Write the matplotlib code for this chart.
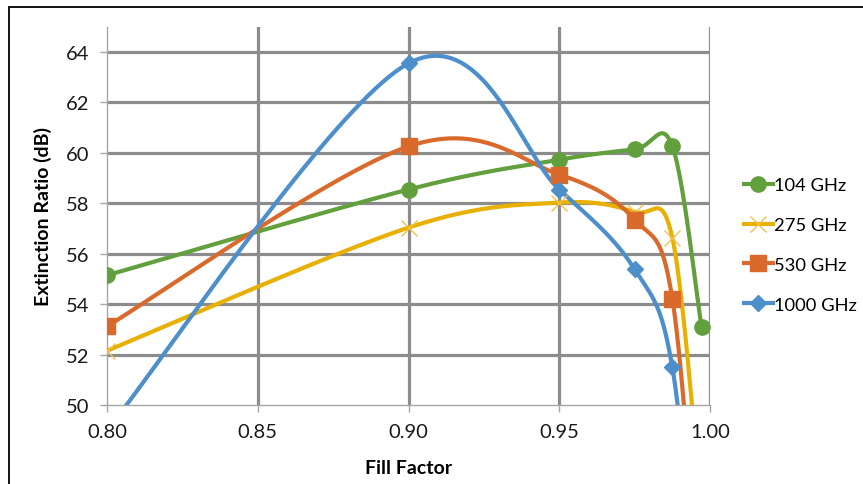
import numpy as np
import matplotlib
matplotlib.use("Agg")
import matplotlib.pyplot as plt
from matplotlib.lines import Line2D
from matplotlib.patches import Rectangle

plt.rcParams['font.family'] = ['Lato', 'DejaVu Sans']

# Fill factor sample points
fill_factor = [0.80, 0.90, 0.95, 0.975, 0.9875, 0.9972]

# Extinction ratio (dB) per frequency
er_104 = [55.14, 58.54, 59.72, 60.13, 60.26, 53.08]
er_275 = [52.15, 57.03, 58.02, 57.65, 56.63, 45.8]
er_530 = [53.12, 60.25, 59.13, 57.35, 54.22, 41.0]
er_1000 = [49.0, 63.54, 58.54, 55.38, 51.5, 40.0]

labels = ['104 GHz', '275 GHz', '530 GHz', '1000 GHz']
colors = ['#62A03E', '#E8B000', '#D96A2B', '#4C8FCB']
markers = ['o', 'x', 's', 'D']

x_ticks = [0.80, 0.85, 0.90, 0.95, 1.00]
y_ticks = [50, 52, 54, 56, 58, 60, 62, 64]


def smooth_curve(x, y, n=80):
    """Cubic Bezier smoothing through every point (spreadsheet-style)."""
    pts = np.column_stack([x, y]).astype(float)
    t = np.linspace(0, 1, n)[:, None]
    out = []
    for i in range(len(pts) - 1):
        p0 = pts[i - 1] if i > 0 else pts[i]
        p1, p2 = pts[i], pts[i + 1]
        p3 = pts[i + 2] if i + 2 < len(pts) else pts[i + 1]
        c1 = p1 + (p2 - p0) / 6.0
        c2 = p2 - (p3 - p1) / 6.0
        seg = ((1 - t) ** 3) * p1 + 3 * ((1 - t) ** 2) * t * c1 \
            + 3 * (1 - t) * t ** 2 * c2 + t ** 3 * p2
        out.append(seg if i == 0 else seg[1:])
    seg = np.vstack(out)
    return seg[:, 0], seg[:, 1]


fig = plt.figure(figsize=(8.63, 4.85), dpi=100)
ax = fig.add_axes([107 / 863, 1 - 406 / 485, (710 - 107) / 863, (406 - 27.5) / 485])

grid_color = '#8C8C8C'
for xv in x_ticks[1:]:
    ax.axvline(xv, color=grid_color, lw=2.3, zorder=1)
for yv in y_ticks[1:]:
    ax.axhline(yv, color=grid_color, lw=2.3, zorder=1)

series = [er_104, er_275, er_530, er_1000]
handles = []
for vals, lab, col, mk in zip(series, labels, colors, markers):
    sx, sy = smooth_curve(fill_factor, vals)
    ax.plot(sx, sy, color=col, lw=3.0, solid_capstyle='butt', zorder=3)
    if mk == 'x':
        ax.plot(fill_factor, vals, ls='none', marker='x', ms=11, mew=1.0,
                color='#F2C04A', zorder=4)
        h = Line2D([], [], color=col, lw=3.0, marker='x', ms=11, mew=1.0,
                   mec='#F2C04A')
    else:
        ms = 11 if mk != 'D' else 8
        ax.plot(fill_factor, vals, ls='none', marker=mk, ms=ms,
                color=col, mec=col, zorder=4)
        h = Line2D([], [], color=col, lw=3.0, marker=mk, ms=ms, mec=col)
    handles.append(h)

ax.set_xlim(0.80, 1.00)
ax.set_ylim(50, 65)
ax.set_xticks(x_ticks)
ax.set_xticklabels([f'{v:.2f}' for v in x_ticks])
ax.set_yticks(y_ticks)

for s in ['top', 'right']:
    ax.spines[s].set_visible(False)
for s in ['left', 'bottom']:
    ax.spines[s].set_color('#A6A6A6')
    ax.spines[s].set_linewidth(1.0)

ax.tick_params(axis='both', direction='out', length=5, width=1.0,
               color='#A6A6A6', labelsize=14.5, labelcolor='#1A1A1A', pad=8)

ax.set_xlabel('Fill Factor', fontsize=14, fontweight='bold')
ax.set_ylabel('Extinction Ratio (dB)', fontsize=14, fontweight='bold')
ax.xaxis.set_label_coords(0.5, -0.143)
ax.yaxis.set_label_coords(-0.092, 0.5)

fig.legend(handles, labels, loc='center left', bbox_to_anchor=(735 / 863, 1 - 246 / 485),
           frameon=False, fontsize=13.2, handlelength=1.55, handletextpad=0.1,
           labelspacing=1.3, borderpad=0)

# Chart-area outline
fig.add_artist(Rectangle((9 / 863, -0.1), 1.2, 1 - 7.5 / 485 + 0.1,
                         transform=fig.transFigure, fill=False,
                         edgecolor='black', lw=1.3))

fig.savefig('out.png', dpi=100)
